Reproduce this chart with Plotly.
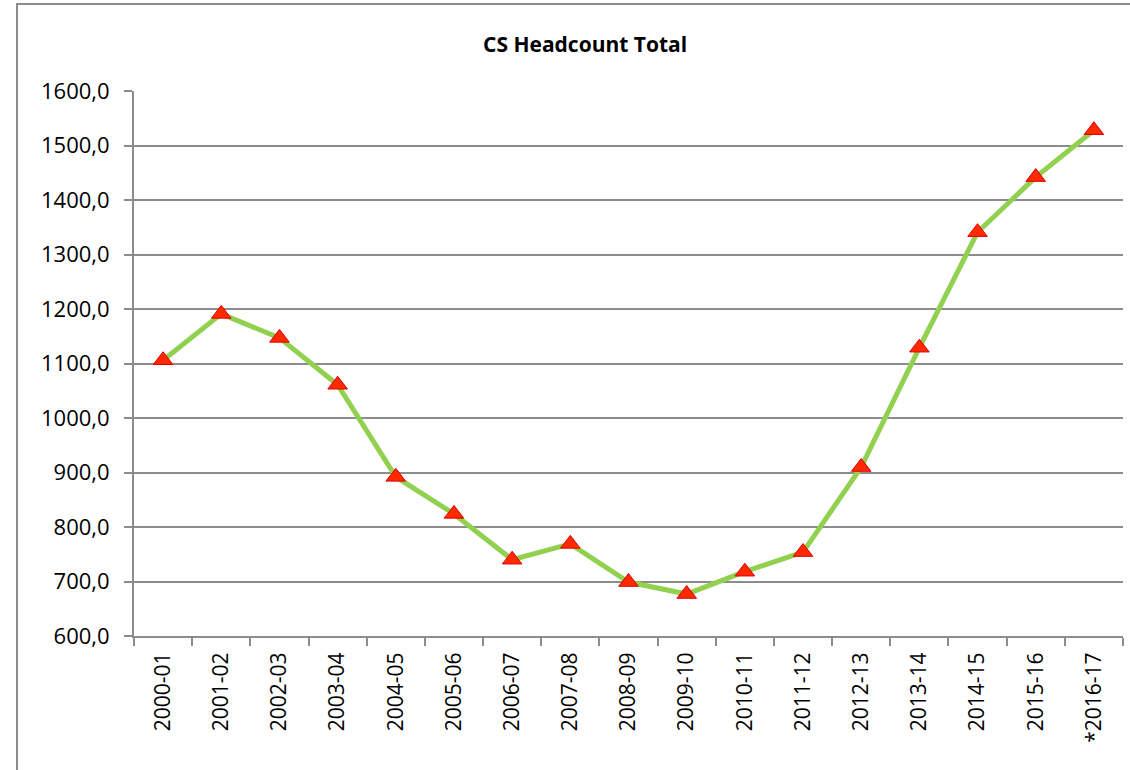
import plotly.graph_objects as go

categories = ["2000-01", "2001-02", "2002-03", "2003-04", "2004-05", "2005-06",
              "2006-07", "2007-08", "2008-09", "2009-10", "2010-11", "2011-12",
              "2012-13", "2013-14", "2014-15", "2015-16", "*2016-17"]
headcount = [1106, 1191, 1147, 1061, 892, 824, 740, 769, 699, 677, 718, 754,
             910, 1129, 1341, 1442, 1528]
y_ticks = [600, 700, 800, 900, 1000, 1100, 1200, 1300, 1400, 1500, 1600]
y_ticktext = [f"{v},0" for v in y_ticks]

FONT = "Open Sans, Liberation Sans, sans-serif"

fig = go.Figure()
fig.add_trace(go.Scatter(
    x=categories, y=headcount, mode="lines+markers",
    line=dict(color="#92D050", width=5),
    marker=dict(symbol="triangle-up", size=17, color="#FF2A00",
                line=dict(color="#E00000", width=1)),
    cliponaxis=False,
))

L, R, T, B = 134, 1130 - 1123, 91, 770 - 636
pw = 1130 - L - R
ph = 770 - T - B

fig.update_layout(
    width=1130, height=770,
    margin=dict(l=L, r=R, t=T, b=B),
    paper_bgcolor="white", plot_bgcolor="white",
    showlegend=False,
    font=dict(family=FONT, color="black"),
    xaxis=dict(
        type="category", tickson="boundaries", showgrid=False,
        showline=True, linecolor="#8c8c8c", linewidth=2,
        ticks="outside", ticklen=8, tickcolor="#8c8c8c", tickwidth=2,
        tickangle=-90, tickfont=dict(size=21, family=FONT),
        ticklabelstandoff=6,
        range=[-0.5, len(categories) - 0.5],
    ),
    yaxis=dict(
        range=[600, 1600], tickvals=y_ticks, ticktext=y_ticktext,
        showgrid=True, gridcolor="#8c8c8c", gridwidth=2,
        showline=True, linecolor="#8c8c8c", linewidth=2,
        ticks="outside", ticklen=8, tickcolor="#8c8c8c", tickwidth=2,
        tickfont=dict(size=22, family=FONT), zeroline=False,
        ticklabelstandoff=10,
    ),
    annotations=[dict(
        text="<b>CS Headcount Total</b>", xref="paper", yref="paper",
        x=(585 - L) / pw, y=(636 - 44) / ph, xanchor="center", yanchor="middle",
        showarrow=False, font=dict(size=21, family=FONT, color="black"),
    )],
    shapes=[dict(
        type="rect", xref="paper", yref="paper",
        x0=(17 - L) / pw, x1=1.2, y0=-0.5, y1=(636 - 4) / ph,
        line=dict(color="#8c8c8c", width=2), fillcolor="rgba(0,0,0,0)",
        layer="below",
    )],
)

fig.write_html("out.html", config={"displayModeBar": False},
               post_script="document.body.style.margin='0px';")
